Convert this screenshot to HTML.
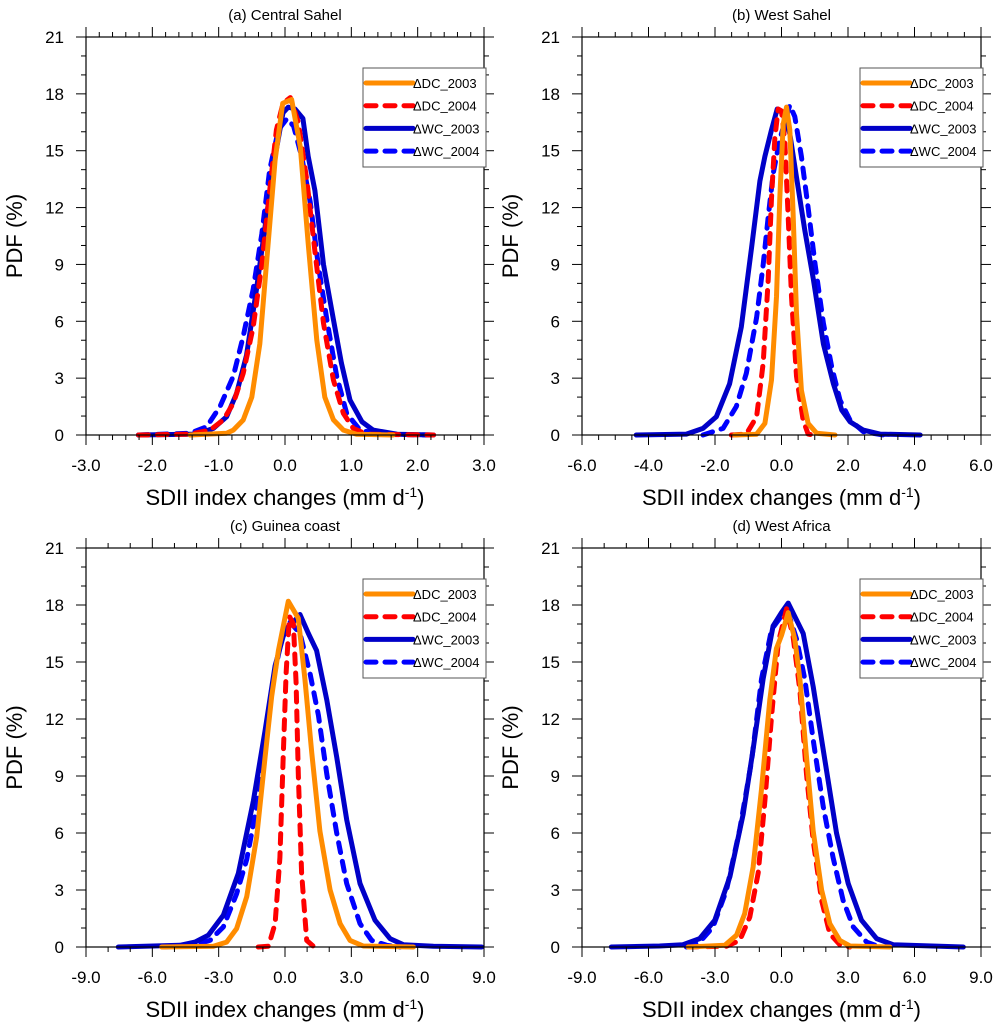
<!DOCTYPE html>
<html><head><meta charset="utf-8"><style>
html,body{margin:0;padding:0;background:#fff;}
svg{display:block;font-family:"Liberation Sans",Arial,sans-serif;}
</style></head><body>
<svg id="fig" width="1003" height="1032" viewBox="0 0 1003 1032" xmlns="http://www.w3.org/2000/svg"></svg>
<script>
// ---- data ----
const seriesNames = ["ΔDC_2003","ΔDC_2004","ΔWC_2003","ΔWC_2004"];
const panelTitles = ["(a) Central Sahel","(b) West Sahel","(c) Guinea coast","(d) West Africa"];
const yTicks = [0,3,6,9,12,15,18,21];
const xTicksA = [-3,-2,-1,0,1,2,3];
const xTicksB = [-6,-4,-2,0,2,4,6];
const xTicksC = [-9,-6,-3,0,3,6,9];
const xTicksD = [-9,-6,-3,0,3,6,9];

// panel a
const aDC03x=[-1.43,-0.88,-0.78,-0.63,-0.50,-0.38,-0.28,-0.15,-0.035,0.10,0.23,0.35,0.48,0.60,0.73,0.88,1.08,1.63];
const aDC03y=[0,0.09,0.26,0.79,2.0,4.8,9.0,14.5,17.5,17.7,15.2,10.1,5.0,2.0,0.8,0.26,0.04,0];
const aDC04x=[-2.21,-1.43,-1.13,-0.93,-0.78,-0.63,-0.48,-0.35,-0.23,-0.13,-0.03,0.08,0.20,0.33,0.45,0.58,0.73,0.88,1.03,1.23,2.24];
const aDC04y=[0,0.04,0.26,0.79,1.67,3.25,5.7,9.0,12.9,16.1,17.5,17.8,16.5,13.4,9.7,5.9,2.9,1.14,0.35,0.04,0];
const aWC03x=[-2.21,-1.33,-1.08,-0.88,-0.73,-0.58,-0.43,-0.28,-0.15,-0.03,0.05,0.15,0.27,0.35,0.45,0.58,0.73,0.85,0.98,1.16,1.33,1.69,2.24];
const aWC03y=[0,0.05,0.35,0.96,2.2,4.2,7.7,11.5,14.7,17.0,17.3,17.2,16.7,14.7,12.9,9.0,6.1,3.8,1.84,0.7,0.26,0.04,0];
const aWC04x=[-2.21,-1.43,-1.18,-0.98,-0.78,-0.63,-0.48,-0.35,-0.23,-0.10,0.03,0.13,0.25,0.38,0.50,0.63,0.78,0.93,1.13,1.43,2.24];
const aWC04y=[0,0.09,0.44,1.5,3.1,5.2,7.7,10.6,14.0,16.1,16.7,16.3,14.7,12.3,9.0,6.1,3.1,1.14,0.26,0.04,0];
// panel b
const bDC03x=[-1.41,-0.75,-0.50,-0.30,-0.15,-0.05,0.05,0.15,0.25,0.35,0.45,0.60,0.80,1.06,1.61];
const bDC03y=[0,0.04,0.61,2.9,7.3,12.5,16.4,17.3,16.1,11.7,6.4,2.36,0.61,0.09,0];
const bDC04x=[-1.51,-1.06,-0.75,-0.55,-0.40,-0.30,-0.20,-0.10,0,0.10,0.20,0.30,0.45,0.65,0.80,0.95];
const bDC04y=[0,0.05,0.96,3.8,8.2,12.5,15.7,17.2,17.1,15.5,11.5,7.3,3.1,0.79,0.05,0];
const bWC03x=[-4.37,-2.86,-2.36,-1.96,-1.56,-1.21,-0.90,-0.65,-0.50,-0.30,-0.13,0.03,0.25,0.45,0.70,0.96,1.26,1.56,1.81,2.06,2.46,2.96,4.17];
const bWC03y=[0,0.05,0.35,0.96,2.7,5.7,9.9,13.4,14.7,16.1,17.2,17.0,15.9,13.6,10.8,8.2,4.8,2.7,1.32,0.7,0.26,0.05,0];
const bWC04x=[-2.36,-1.76,-1.36,-1.06,-0.75,-0.55,-0.40,-0.25,-0.05,0.25,0.40,0.60,0.80,1.01,1.26,1.51,1.76,2.06,2.46,3.07];
const bWC04y=[0,0.35,1.5,3.25,6.2,9.0,11.5,13.8,15.6,17.4,16.8,14.7,12.0,9.0,5.9,3.6,1.84,0.79,0.18,0];
// panel c
const cDC03x=[-5.58,-3.24,-2.64,-2.19,-1.73,-1.28,-0.90,-0.60,-0.30,0.15,0.60,0.90,1.21,1.58,2.04,2.49,2.94,3.54,5.81];
const cDC03y=[0,0.04,0.26,0.97,2.64,5.8,10.0,13.2,15.6,18.2,17.3,14.1,10.2,6.1,3.0,1.23,0.35,0.05,0];
const cDC04x=[-1.21,-0.75,-0.45,-0.23,-0.08,0.05,0.20,0.38,0.50,0.60,0.75,0.98,1.28,1.66];
const cDC04y=[0,0.04,1.23,4.7,10.0,14.4,17.4,17.0,13.9,9.1,3.9,0.35,0.04,0];
const cWC03x=[-7.54,-4.75,-4.07,-3.47,-2.79,-2.11,-1.43,-0.90,-0.45,0,0.38,0.68,1.06,1.43,1.89,2.34,2.79,3.39,4.07,4.75,5.35,6.71,8.90];
const cWC03y=[0,0.09,0.26,0.62,1.67,3.87,7.7,11.4,14.8,16.7,17.1,17.5,16.5,15.6,13.0,10.0,6.7,3.34,1.41,0.44,0.12,0.04,0];
const cWC04x=[-5.50,-4.15,-3.39,-2.79,-2.19,-1.73,-1.28,-0.90,-0.53,-0.15,0.23,0.68,1.13,1.51,1.89,2.34,2.79,3.39,3.92,4.60,5.20];
const cWC04y=[0,0.09,0.35,1.05,2.8,4.6,7.4,10.9,14.1,16.2,17.1,16.5,14.4,12.2,9.1,6.0,3.34,1.23,0.35,0.09,0];
// panel d
const dDC03x=[-4.21,-2.56,-2.03,-1.66,-1.28,-0.90,-0.53,-0.23,0,0.30,0.60,0.83,1.13,1.43,1.81,2.18,2.63,3.09,4.89];
const dDC03y=[0,0.09,0.62,1.76,4.2,8.3,13.0,15.7,16.4,17.6,16.2,14.1,10.0,6.1,3.0,1.23,0.35,0.05,0];
const dDC04x=[-4.21,-2.48,-1.88,-1.43,-1.05,-0.75,-0.45,-0.15,0.23,0.53,0.83,1.13,1.43,1.81,2.18,2.63,3.09];
const dDC04y=[0,0.04,0.35,1.58,3.9,7.7,12.1,16.0,17.8,16.3,13.5,9.1,5.6,2.46,0.7,0.12,0];
const dWC03x=[-7.68,-5.50,-4.45,-3.69,-3.01,-2.33,-1.73,-1.28,-0.83,-0.38,0,0.30,0.98,1.43,2.03,2.48,3.01,3.61,4.29,5.04,8.20];
const dWC03y=[0,0.05,0.12,0.44,1.41,3.7,7.0,10.4,14.1,16.9,17.6,18.1,16.5,13.7,9.3,6.0,3.34,1.41,0.44,0.12,0];
const dWC04x=[-4.29,-3.69,-3.09,-2.48,-1.88,-1.35,-0.90,-0.45,-0.08,0.30,0.68,1.05,1.43,1.88,2.33,2.78,3.24,3.84,4.44];
const dWC04y=[0,0.26,1.05,3.0,6.2,9.8,14.1,16.7,17.3,17.6,16.2,14.1,10.9,7.4,4.7,2.46,1.05,0.26,0];

// ---- drawing ----
const NS="http://www.w3.org/2000/svg";
const fig=document.getElementById('fig');
function mk(tag,attrs,parent){const e=document.createElementNS(NS,tag);for(const k in attrs)e.setAttribute(k,attrs[k]);(parent||fig).appendChild(e);return e;}
const styles=[
 {stroke:"#ff8c00",dash:null},
 {stroke:"#ff0000",dash:"10 9"},
 {stroke:"#0000c8",dash:null},
 {stroke:"#0000ff",dash:"10 9"}];
const panels=[
 {L:86,R:484,T:37,B:435,xmin:-3,xmax:3,ticks:xTicksA,minor:0.2,series:[[aDC03x,aDC03y],[aDC04x,aDC04y],[aWC03x,aWC03y],[aWC04x,aWC04y]],key:"a"},
 {L:582,R:981,T:37,B:435,xmin:-6,xmax:6,ticks:xTicksB,minor:0.5,series:[[bDC03x,bDC03y],[bDC04x,bDC04y],[bWC03x,bWC03y],[bWC04x,bWC04y]],key:"b"},
 {L:86,R:484,T:548,B:947,xmin:-9,xmax:9,ticks:xTicksC,minor:1,series:[[cDC03x,cDC03y],[cDC04x,cDC04y],[cWC03x,cWC03y],[cWC04x,cWC04y]],key:"c"},
 {L:582,R:981,T:548,B:947,xmin:-9,xmax:9,ticks:xTicksD,minor:1,series:[[dDC03x,dDC03y],[dDC04x,dDC04y],[dWC03x,dWC03y],[dWC04x,dWC04y]],key:"d"}];

panels.forEach((p,pi)=>{
  const g=mk('g',{});
  
  
  const xs=v=>p.L+(v-p.xmin)/(p.xmax-p.xmin)*(p.R-p.L);
  const ys=v=>p.B-(v/21)*(p.B-p.T);
  const t=mk('text',{x:(p.L+p.R)/2,y:p.T-17,'text-anchor':'middle','font-size':15,fill:'#000'},g);
  t.textContent=panelTitles[pi];
  
  
  [3,2,1,0].forEach(si=>{
    const [X,Y]=p.series[si];
    const pts=X.map((x,i)=>xs(x).toFixed(1)+','+ys(Y[i]).toFixed(1)).join(' ');
    const a={points:pts,fill:'none',stroke:styles[si].stroke,'stroke-width':5,'stroke-linejoin':'round','stroke-linecap':'round'};
    if(styles[si].dash)a['stroke-dasharray']=styles[si].dash;
    const pl=mk('polyline',a,g);
    
    
  });
  const fr=mk('rect',{x:p.L,y:p.T,width:p.R-p.L,height:p.B-p.T,fill:'none',stroke:'#000','stroke-width':1.2},g);
  
  
  for(let v=0;v<=21;v++){
    const major=v%3===0, len=major?10:5, y=ys(v);
    mk('line',{x1:p.L-len,y1:y,x2:p.L,y2:y,stroke:'#000','stroke-width':1},g);
    mk('line',{x1:p.R,y1:y,x2:p.R+len,y2:y,stroke:'#000','stroke-width':1},g);
  }
  yTicks.forEach(v=>{
    const tl=mk('text',{x:p.L-22,y:ys(v)+6,'text-anchor':'end','font-size':17,fill:'#000'},g);
    tl.textContent=v;
    
    
  });
  const n=Math.round((p.xmax-p.xmin)/p.minor);
  for(let i=0;i<=n;i++){
    const v=p.xmin+i*p.minor;
    const major=p.ticks.some(tv=>Math.abs(tv-v)<1e-6);
    const len=major?10:5, x=xs(v);
    mk('line',{x1:x,y1:p.B,x2:x,y2:p.B+len,stroke:'#000','stroke-width':1},g);
    mk('line',{x1:x,y1:p.T-len,x2:x,y2:p.T,stroke:'#000','stroke-width':1},g);
  }
  p.ticks.forEach(v=>{
    const tl=mk('text',{x:xs(v),y:p.B+36,'text-anchor':'middle','font-size':17,fill:'#000'},g);
    tl.textContent=v.toFixed(1);
    
    
  });
  const xt=mk('text',{x:(p.L+p.R)/2,y:p.B+70,'text-anchor':'middle','font-size':22,fill:'#000'},g);
  xt.innerHTML='SDII index changes (mm d<tspan dy="-8" font-size="14">-1</tspan><tspan dy="8">)</tspan>';
  
  
  const yt=mk('text',{x:0,y:0,'text-anchor':'middle','font-size':22,fill:'#000',transform:`translate(${p.L-64},${(p.T+p.B)/2}) rotate(-90)`},g);
  yt.textContent='PDF (%)';
  
  
  const lx=p.R-121, ly=p.T+31;
  const lg=mk('g',{},g);
  
  
  mk('rect',{x:lx,y:ly,width:123,height:99,fill:'#fff',stroke:'#555','stroke-width':1},lg);
  seriesNames.forEach((nm,si)=>{
    const ry=ly+15+si*22.7;
    const a={x1:lx+3,y1:ry,x2:lx+50,y2:ry,stroke:styles[si].stroke,'stroke-width':5,'stroke-linecap':'round'};
    if(styles[si].dash)a['stroke-dasharray']=styles[si].dash;
    mk('line',a,lg);
    const tx=mk('text',{x:lx+50,y:ry+5,'font-size':13,fill:'#000'},lg);
    tx.textContent=nm;
    
    
  });
});
</script>
</body></html>
